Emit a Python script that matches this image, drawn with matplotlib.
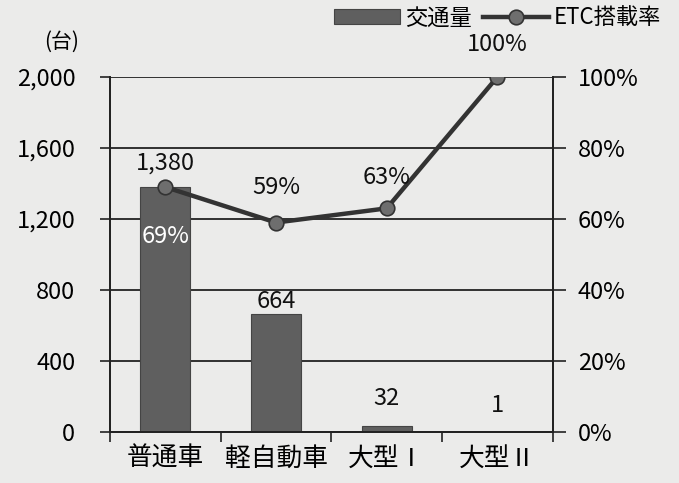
import numpy as np
import matplotlib.pyplot as plt
from matplotlib.ticker import FuncFormatter

plt.rcParams['font.family'] = ['Noto Sans CJK JP', 'DejaVu Sans']

categories = ['普通車', '軽自動車', '大型Ⅰ', '大型Ⅱ']
traffic = [1380, 664, 32, 1]
etc_rate = [69, 59, 63, 100]

bg = '#ebebea'
fig = plt.figure(figsize=(6.79, 4.83), dpi=100, facecolor=bg)
ax = fig.add_axes([0.162, 0.1056, 0.652, 0.735])
ax.set_facecolor(bg)
ax2 = ax.twinx()

x = np.arange(len(categories))
ax.bar(x, traffic, width=0.45, color='#5f5f5f', edgecolor='#444444', linewidth=0.8,
       zorder=2, label='交通量')
ax2.plot(x, etc_rate, color='#333333', linewidth=3.2, marker='o', markersize=10.5,
         markerfacecolor='#6e6e6e', markeredgecolor='#333333', markeredgewidth=1.2,
         zorder=3, label='ETC搭載率')

ax.set_xlim(-0.5, 3.5)
ax.set_ylim(0, 2000)
ax2.set_ylim(0, 100)
ax.set_yticks(np.arange(0, 2001, 400))
ax2.set_yticks(np.arange(0, 101, 20))
ax.yaxis.set_major_formatter(FuncFormatter(lambda v, p: f'{int(v):,}'))
ax2.yaxis.set_major_formatter(FuncFormatter(lambda v, p: f'{int(v)}%'))
ax.grid(axis='y', color='#222222', linewidth=1.3, zorder=0)
ax.set_axisbelow(True)

ax.set_xticks(x)
ax.set_xticklabels(categories, fontsize=18.5)
ax.set_xticks(np.arange(-0.5, 3.6, 1), minor=True)
ax.tick_params(axis='x', which='major', length=0, pad=10)
ax.tick_params(axis='x', which='minor', length=7, width=1.2, color='#222222')
ax.tick_params(axis='y', labelsize=17, length=7, width=1.2, color='#222222', pad=18)
ax2.tick_params(axis='y', labelsize=17, length=9, width=1.2, color='#222222', pad=9)

for a in (ax, ax2):
    a.spines['top'].set_visible(False)
    for s in ('left', 'right', 'bottom'):
        a.spines[s].set_color('#222222')
        a.spines[s].set_linewidth(1.3)

# value labels
bar_offsets = [70, 5, 90, 85]
for xi, v, off in zip(x, traffic, bar_offsets):
    ax.text(xi, v + off, f'{v:,}', ha='center', va='bottom', fontsize=17, color='#111111')
ax2.text(x[0], etc_rate[0] - 14, f'{etc_rate[0]}%', ha='center', va='center', fontsize=17, color='white')
label_offsets = [0, 6.5, 5.5, 6]
for xi, v, off in zip(x[1:], etc_rate[1:], label_offsets[1:]):
    ax2.text(xi, v + off, f'{v}%', ha='center', va='bottom', fontsize=17, color='#111111')

fig.text(0.09, 0.913, '(台)', ha='center', va='center', fontsize=15)

h1, l1 = ax.get_legend_handles_labels()
h2, l2 = ax2.get_legend_handles_labels()
ax.legend(h1 + h2, l1 + l2, loc='upper right', bbox_to_anchor=(0.99, 1.01),
          bbox_transform=fig.transFigure, frameon=False, fontsize=16, ncol=2,
          handlelength=3.0, handletextpad=0.2, columnspacing=0.5, borderaxespad=0.1)

fig.savefig('out.png', dpi=100, facecolor=bg)
